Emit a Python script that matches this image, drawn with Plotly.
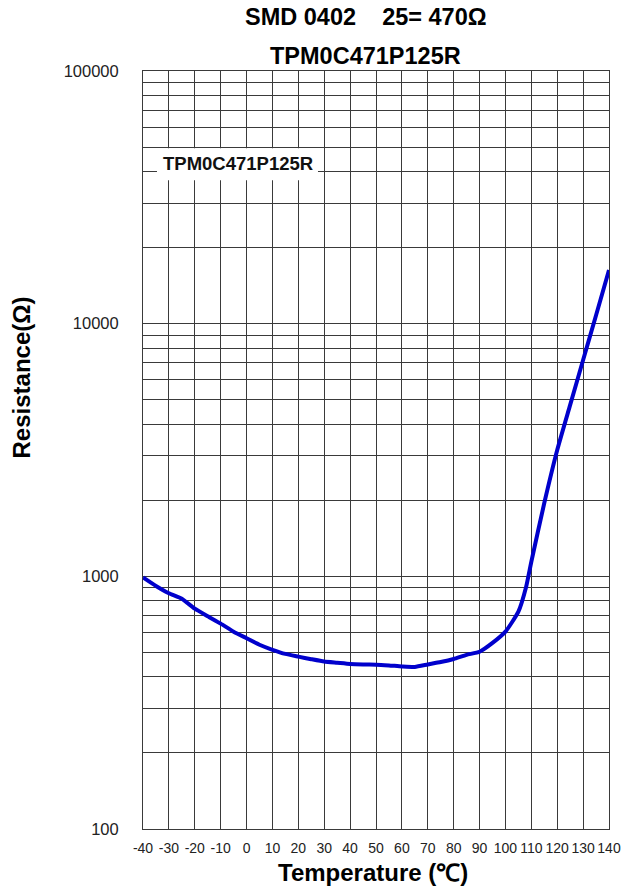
import plotly.graph_objects as go

# ---- data ----
temperature_c = [-40, -35, -30, -25, -20, -15, -10, -5, 0, 5, 10, 15, 20, 25, 30, 35,
                 40, 45, 50, 55, 60, 65, 70, 75, 80, 85, 90, 95, 100, 105, 108, 110,
                 115, 120, 125, 130, 135, 140]
resistance_ohm = [990, 916, 857, 815, 745, 695, 650, 604, 569, 536, 512, 493, 481, 470,
                  460, 455, 450, 448, 447, 444, 440, 438, 448, 458, 471, 489, 503, 545,
                  604, 725, 910, 1142, 1950, 3162, 4770, 7180, 10800, 16300]

x_ticks = list(range(-40, 141, 10))
y_grid = [m * 10 ** e for e in (2, 3, 4) for m in range(1, 10)] + [100000]
y_labels = {100: "100", 1000: "1000", 10000: "10000", 100000: "100000"}
y_ticktext = [y_labels.get(v, "") for v in y_grid]

series_name = "TPM0C471P125R"
title_1 = "SMD 0402\u00a0\u00a0\u00a0\u00a025= 470Ω"
title_2 = "TPM0C471P125R"
x_title = "Temperature (℃)"
y_title = "Resistance(Ω)"

FONT = "Liberation Sans, Arial, sans-serif"
GRID = "#3a3a3a"

fig = go.Figure()
fig.add_trace(go.Scatter(
    x=temperature_c, y=resistance_ohm, mode="lines", name=series_name,
    line=dict(color="#0000cc", width=4, shape="spline", smoothing=0.5),
    showlegend=False,
))

fig.update_layout(
    width=622, height=891,
    margin=dict(l=143, r=13, t=71, b=62, autoexpand=False),
    paper_bgcolor="white", plot_bgcolor="white",
    font=dict(family=FONT, color="#222"),
    xaxis=dict(
        range=[-40, 140], tickvals=x_ticks, ticktext=[str(v) for v in x_ticks],
        showgrid=True, gridcolor=GRID, gridwidth=1,
        showline=True, linecolor=GRID, linewidth=1, mirror=True,
        ticks="", ticklabelstandoff=6, tickangle=0, automargin=False,
        tickfont=dict(size=14, color="#222"),
        zeroline=False,
    ),
    yaxis=dict(
        type="log", range=[2, 5], tickvals=y_grid, ticktext=y_ticktext,
        showgrid=True, gridcolor=GRID, gridwidth=1,
        showline=True, linecolor=GRID, linewidth=1, mirror=True,
        ticks="", ticklabelstandoff=20, automargin=False,
        tickfont=dict(size=16.5, color="#222"),
        zeroline=False,
    ),
    shapes=[dict(
        type="rect", xref="paper", yref="paper",
        x0=0.030, x1=0.3755, y0=0.856, y1=0.898,
        fillcolor="white", line=dict(width=0), layer="above",
    )],
    annotations=[
        dict(text=f"<b>{series_name}</b>", xref="paper", yref="paper",
             x=0.2039, y=0.878, xanchor="center", yanchor="middle",
             showarrow=False, font=dict(size=18.5, color="#111", family=FONT)),
        dict(text=f"<b>{title_1}</b>", xref="paper", yref="paper",
             x=0.4785, y=1.0706, xanchor="center", yanchor="middle",
             showarrow=False, font=dict(size=23.5, color="#000", family=FONT)),
        dict(text=f"<b>{title_2}</b>", xref="paper", yref="paper",
             x=0.4785, y=1.0204, xanchor="center", yanchor="middle",
             showarrow=False, font=dict(size=23.5, color="#000", family=FONT)),
        dict(text=f"<b>{x_title}</b>", xref="paper", yref="paper",
             x=0.4925, y=-0.058, xanchor="center", yanchor="middle",
             showarrow=False, font=dict(size=24, color="#000", family=FONT)),
        dict(text=f"<b>{y_title}</b>", xref="paper", yref="paper",
             x=-0.2607, y=0.595, xanchor="center", yanchor="middle", textangle=-90,
             showarrow=False, font=dict(size=24, color="#000", family=FONT)),
    ],
)

fig.write_html("out.html")
